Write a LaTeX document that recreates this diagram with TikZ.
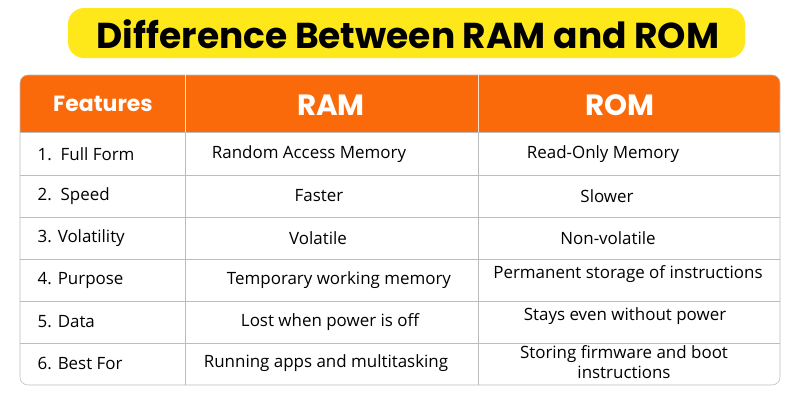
\documentclass[tikz,border=0pt]{standalone}
\usepackage{fontspec}
\setmainfont{Open Sans}
\newfontfamily\titlefont{Poppins}
\definecolor{bannerYellow}{HTML}{FFE81A}
\definecolor{headOrange}{HTML}{FB6A0A}
\definecolor{gridGray}{HTML}{BDBDBD}
\tikzset{
	cell/.style = {font=\fontsize{12.7}{14.5}\selectfont, text=black},
	feat/.style = {cell, anchor=west},
	head/.style = {font=\titlefont\bfseries\fontsize{22}{24}\selectfont, text=white},
}
\begin{document}
\begin{tikzpicture}[x = 0.75pt, y = -0.75pt]
	\useasboundingbox (0,0) rectangle (800,400);
	\fill[white] (0,0) rectangle (800,400);
	
	% title banner
	\fill[bannerYellow, rounded corners = 12pt] (68,8) rectangle (745,58);
	\node[font=\titlefont\bfseries\fontsize{27}{30}\selectfont](title) at (408,34) {Difference Between RAM and ROM};
	
	% table
	\fill[headOrange, rounded corners = 6pt] (20,75) rectangle (780,110);
	\fill[headOrange] (20,100) rectangle (780,132);
	\draw[gridGray, rounded corners = 6pt] (20,75) rectangle (780,385);
	\foreach \y in {132,175,217,259,301,343}
		\draw[gridGray] (20,\y) -- (780,\y);
	\draw[white!80!headOrange] (185,75) -- (185,132);
	\draw[white!80!headOrange] (478,75) -- (478,132);
	\draw[gridGray] (185,132) -- (185,385);
	\draw[gridGray] (478,132) -- (478,385);
	
	\node[head, font=\titlefont\bfseries\fontsize{16.5}{18}\selectfont](features) at (103,104) {Features};
	\node[head](ram) at (331,105) {RAM};
	\node[head](rom) at (620,105) {ROM};
	
	\node[feat](f1) at (33,154) {1.\ \ Full Form};
	\node[feat](f2) at (33,196) {2.\ \ Speed};
	\node[feat](f3) at (33,238) {3. Volatility};
	\node[feat](f4) at (33,280) {4. Purpose};
	\node[feat](f5) at (33,322) {5. Data};
	\node[feat](f6) at (33,363) {6. Best For};
	
	\node[cell](a1) at (309,154) {Random Access Memory};
	\node[cell](a2) at (319,196) {Faster};
	\node[cell](a3) at (318,238) {Volatile};
	\node[cell](a4) at (339,280) {Temporary working memory};
	\node[cell](a5) at (330,322) {Lost when power is off};
	\node[cell](a6) at (326,363) {Running apps and multitasking};
	
	\node[cell](b1) at (603,154) {Read-Only Memory};
	\node[cell](b2) at (607,196) {Slower};
	\node[cell](b3) at (608,238) {Non-volatile};
	\node[cell](b4) at (628,274) {Permanent storage of instructions};
	\node[cell](b5) at (625,316) {Stays even without power};
	\node[cell, align=center](b6) at (624,362) {Storing firmware and boot\\instructions};
\end{tikzpicture}
\end{document}
